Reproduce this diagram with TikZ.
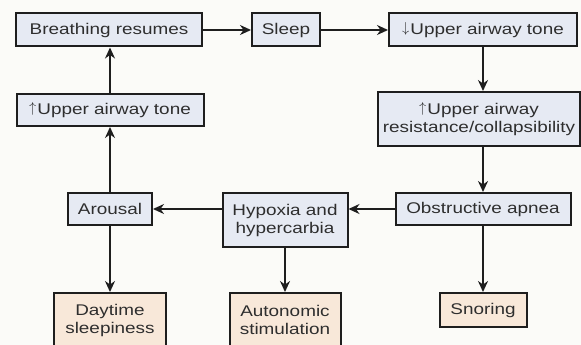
\documentclass[tikz,border=0pt]{standalone}
\usepackage{fontspec}
\setmainfont[FakeStretch=1.22]{Liberation Sans}
\usetikzlibrary{arrows.meta}
\definecolor{boxblue}{HTML}{E6EAF3}
\definecolor{boxbeige}{HTML}{F8E8D9}
\definecolor{edgecol}{HTML}{1E1E1E}
\definecolor{bg}{HTML}{FBFBF8}
\newcommand{\uparr}{\raisebox{1.2pt}{$\uparrow$}\kern1pt}
\newcommand{\downarr}{\raisebox{1.2pt}{$\downarrow$}\kern1pt}
\tikzset{
  box/.style={draw=edgecol, line width=2pt, fill=boxblue, inner sep=0pt, align=center,
    font=\fontsize{15.5}{18}\selectfont, text=black!82},
  outbox/.style={box, fill=boxbeige},
  conn/.style={draw=edgecol, line width=2pt, -{Stealth[length=11pt,width=10pt]}},
}
\begin{document}
\begin{tikzpicture}[x=1pt,y=-1pt]
\fill[bg] (0,0) rectangle (581,345);
\useasboundingbox (0,0) rectangle (581,345);
\node[box, minimum width=186pt, minimum height=33pt] (br) at (109,30) {Breathing resumes};
\node[box, minimum width=68pt, minimum height=33pt] (sl) at (286,30) {Sleep};
\node[box, minimum width=188pt, minimum height=33pt] (dt) at (483,30) {\downarr Upper airway tone};
\node[box, minimum width=202pt, minimum height=54pt] (ur) at (479,119) {\uparr Upper airway\\resistance/collapsibility};
\node[box, minimum width=175pt, minimum height=32pt] (oa) at (483,209) {Obstructive apnea};
\node[outbox, minimum width=87pt, minimum height=34pt] (sn) at (483,310) {Snoring};
\node[box, minimum width=125pt, minimum height=54pt] (hy) at (285,220) {Hypoxia and\\hypercarbia};
\node[box, minimum width=84pt, minimum height=32pt] (ar) at (110,209) {Arousal};
\node[outbox, minimum width=112pt, minimum height=54pt] (ds) at (110,320) {Daytime\\sleepiness};
\node[outbox, minimum width=111pt, minimum height=54pt] (au) at (285,320) {Autonomic\\stimulation};
\node[box, minimum width=187pt, minimum height=32pt] (ut) at (110,110) {\uparr Upper airway tone};

\draw[conn] (br.east) -- (sl.west);
\draw[conn] (sl.east) -- (dt.west);
\draw[conn] (dt.south) -- (dt.south |- ur.north);
\draw[conn] (dt.south |- ur.south) -- (dt.south |- oa.north);
\draw[conn] (oa.west) -- (oa.west -| hy.east);
\draw[conn] (ar.east -| hy.west) -- (ar.east);
\draw[conn] (ar.north) -- (ut.south -| ar.north);
\draw[conn] (ut.north -| ar.north) -- (br.south -| ar.north);
\draw[conn] (ar.south) -- (ds.north);
\draw[conn] (hy.south) -- (au.north);
\draw[conn] (oa.south) -- (sn.north);
\end{tikzpicture}
\end{document}
